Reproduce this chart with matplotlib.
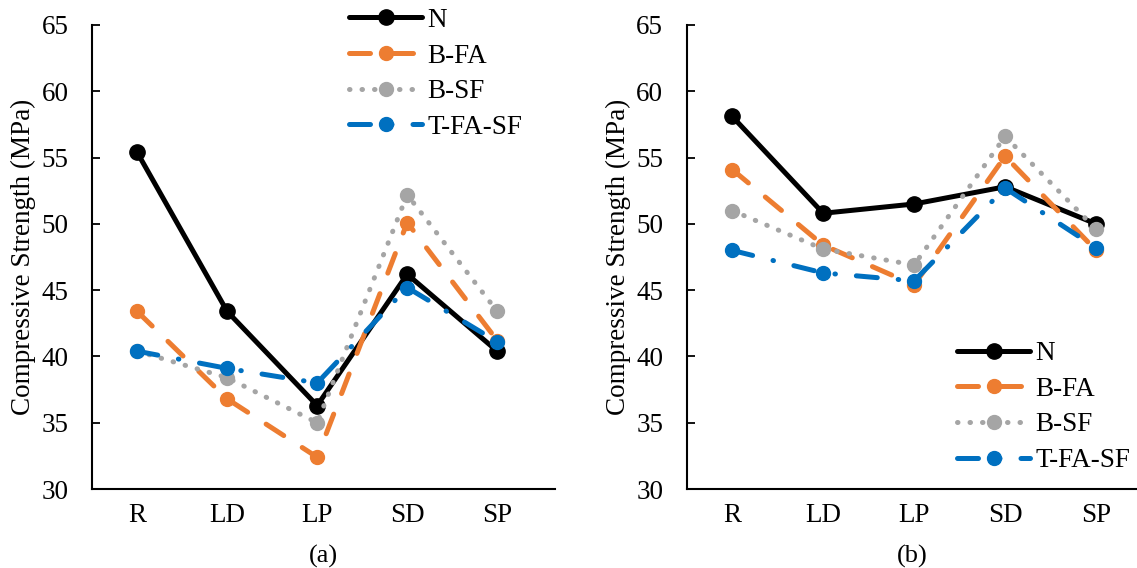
import numpy as np
import matplotlib
matplotlib.use('Agg')
from matplotlib import pyplot as plt

categories = ['R', 'LD', 'LP', 'SD', 'SP']
series = ['N', 'B-FA', 'B-SF', 'T-FA-SF']

# panel (a)
a_N = [55.4, 43.4, 36.3, 46.2, 40.4]
a_BFA = [43.4, 36.8, 32.4, 50.1, 41.2]
a_BSF = [40.4, 38.4, 35.0, 52.2, 43.4]
a_TFASF = [40.4, 39.1, 38.0, 45.2, 41.1]

# panel (b)
b_N = [58.1, 50.8, 51.5, 52.8, 50.0]
b_BFA = [54.1, 48.4, 45.4, 55.1, 48.0]
b_BSF = [51.0, 48.1, 46.9, 56.6, 49.6]
b_TFASF = [48.0, 46.3, 45.7, 52.7, 48.2]

yticks = [30, 35, 40, 45, 50, 55, 60, 65]

plt.rcParams['font.family'] = ['Liberation Serif', 'DejaVu Serif']

colors = ['black', '#ED7D31', '#A5A5A5', '#0070C0']
dashes = [None, (4.2, 4.4), (0.1, 2.4), (4.2, 4.2, 0.1, 4.2)]
msizes = [11, 10, 10, 10]

fig = plt.figure(figsize=(11.37, 5.68), dpi=100)
ax1 = fig.add_axes([0.081, 0.139, 0.407, 0.817])
ax2 = fig.add_axes([0.604, 0.139, 0.396, 0.817])

def draw(ax, data, xmax, label, legend_anchor):
    x = np.arange(len(categories))
    handles = []
    for i, (vals, name) in enumerate(zip(data, series)):
        kw = dict(color=colors[i], lw=3.6, marker='o', ms=msizes[i],
                  label=name, solid_capstyle='round', dash_capstyle='round')
        ln, = ax.plot(x, vals, **kw)
        if dashes[i] is not None:
            ln.set_dashes(dashes[i])
        handles.append(ln)
    ax.set_ylim(30, 65)
    ax.set_xlim(-0.5, xmax)
    ax.set_yticks(yticks)
    ax.set_xticks(x)
    ax.set_xticklabels(categories)
    ax.tick_params(axis='x', length=0, labelsize=19.5, pad=10)
    ax.tick_params(axis='y', length=6, width=1.3, labelsize=19.5, direction='in', pad=17)
    for s in ['top', 'right']:
        ax.spines[s].set_visible(False)
    for s in ['left', 'bottom']:
        ax.spines[s].set_linewidth(1.5)
    ax.set_ylabel('Compressive Strength (MPa)', fontsize=19.5, labelpad=4)
    ax.set_xlabel(label, fontsize=19, labelpad=12)
    ax.legend(handles=handles, loc='upper left', bbox_to_anchor=legend_anchor,
              bbox_transform=fig.transFigure, frameon=False, fontsize=19.5,
              handlelength=2.7, labelspacing=0.39, handletextpad=0.2,
              borderaxespad=0, borderpad=0)

draw(ax1, [a_N, a_BFA, a_BSF, a_TFASF], 4.64, '(a)', (0.307, 0.986))
draw(ax2, [b_N, b_BFA, b_BSF, b_TFASF], 4.45, '(b)', (0.8417, 0.399))

fig.savefig('out.png', dpi=100)
